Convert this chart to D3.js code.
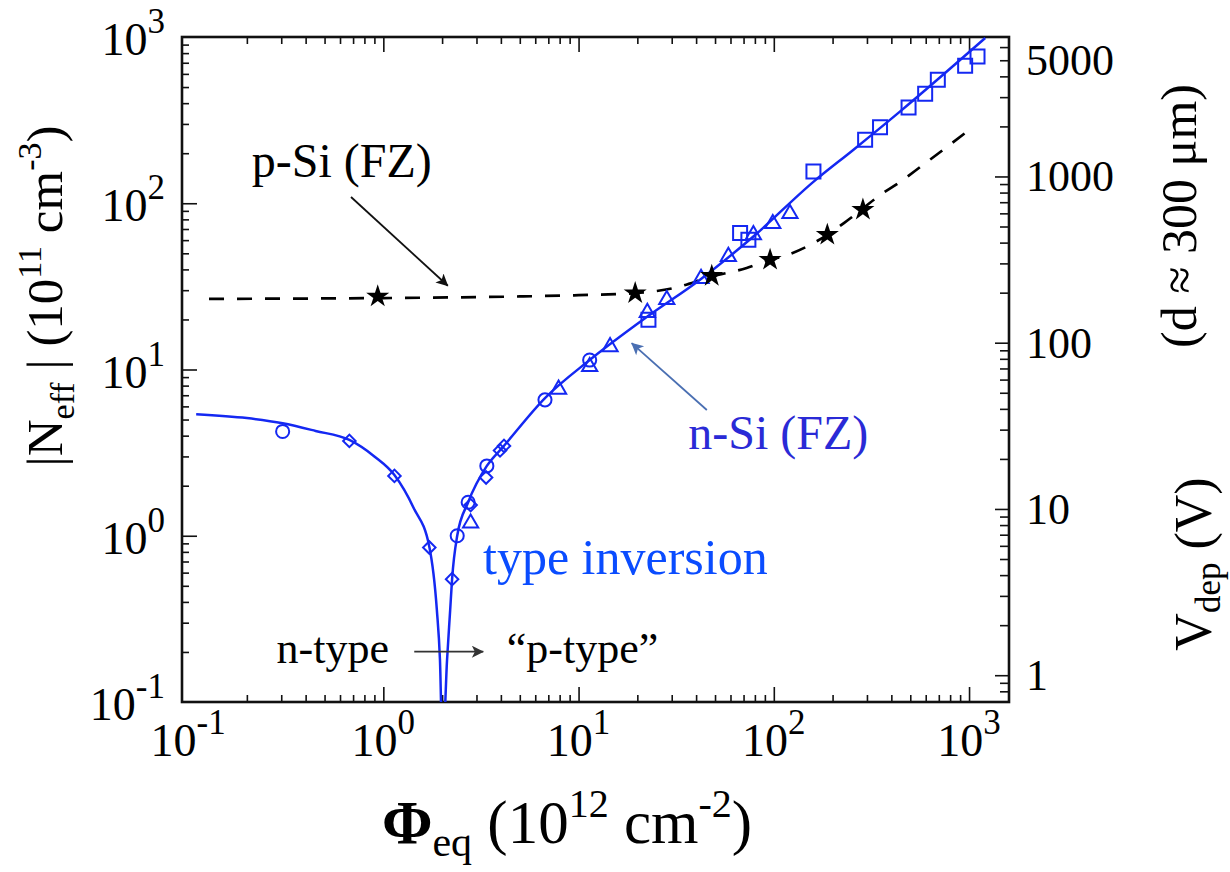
<!DOCTYPE html>
<html>
<head>
<meta charset="utf-8">
<script src="https://cdn.jsdelivr.net/npm/d3@7/dist/d3.min.js"></script>
<style>
html,body{margin:0;padding:0;background:#fff;}
svg{display:block;}
text{font-family:"Liberation Serif","Times New Roman",Times,serif;white-space:pre;}
</style>
</head>
<body>
<svg id="chart" width="1230" height="872"></svg>
<script>
// ---------------- data ----------------
// n-Si (FZ) fitted curve (solid blue)
const nFitPhi = [0.11,0.2,0.305,0.45,0.67,0.9,1.14,1.43,1.72,1.88,1.95,1.998,2.036,2.12,2.2,2.25,2.39,2.72,3.39,4.12,6.73,11.4,22.5,41.9,78.6,160,256,444,1210];
const nFitN   = [5.38,5.1,4.75,4.27,3.77,3.0,2.32,1.47,0.86,0.358,0.18,0.07,0.07,0.179,0.358,0.548,1.0,1.59,2.63,3.44,6.73,11.4,20.8,34.7,63.1,135,210,357,986];
// p-Si (FZ) curve (dashed black)
const pFitPhi = [0.128,1,5,10,19.5,30,48.1,72.6,95.7,114,188,240,362,434,573,754,973];
const pFitN   = [26.6,26.9,27.5,28.0,28.8,30.7,36.2,40.8,45.7,48.3,64.6,79.3,115,132,168,214,269];
// n-Si measurements (open blue markers)
const circlePhi = [0.305,2.39,2.72,3.39,6.73,11.4];
const circleN   = [4.24,1.0,1.59,2.63,6.57,11.4];
const diamondPhi = [0.67,1.14,1.72,2.25,2.80,3.36,3.96,4.15];
const diamondN   = [3.72,2.29,0.85,0.548,1.53,2.24,3.26,3.47];
const trianglePhi = [2.80,7.9,11.4,14.5,22.5,28.3,42.4,58.5,78.6,98.8,121];
const triangleN   = [1.19,7.6,10.4,13.7,22.0,26.3,35.2,47.8,64.6,75.3,86.5];
const squarePhi = [22.8,67.2,74.1,159.6,293.6,350,490,596,692,955,1105];
const squareN   = [19.9,66.2,60.3,155.4,241,287,377,456,553,671,764];
// p-Si measurements (filled black stars)
const starPhi = [0.936,19.5,48.1,95.7,188,286];
const starN   = [27.5,28.8,36.6,45.7,64.6,91.4];
// axes
const xExponents = [-1,0,1,2,3];
const yExponents = [-1,0,1,2,3];
const vLabels = [1,10,100,1000,5000];
const vMajor = [1,10,100,1000];
const vPerN = 6.9;   // V_dep (V) per 10^11 cm^-3 for d ~ 300 um

// ---------------- layout ----------------
const svg = d3.select("#chart");
const M = {left:182, right:1009, top:37, bottom:702};
const x = d3.scaleLog().domain([0.09307, 1602]).range([M.left, M.right]);
const y = d3.scaleLog().domain([1e-1, 1e3]).range([M.bottom, M.top]);
const yV = d3.scaleLog().domain([1e-1*vPerN, 1e3*vPerN]).range([M.bottom, M.top]);
const dec = e => Math.pow(10, e);
const BLUE = "#1428f2";

function minorVals(scale, e0, e1, lo, hi){
  const out = [];
  for (let e=e0; e<=e1; e++) for (let m=2; m<=9; m++){
    const v = m*dec(e), p = scale(v);
    if (p > lo+3 && p < hi-3) out.push(v);
  }
  return out;
}
const xMajor = [1,10,100,1000];
const xMinor = minorVals(x,-1,3,M.left,M.right);
const yMajor = [1,10,100];
const yMinor = minorVals(y,-1,2,M.top,M.bottom);
const vMinor = minorVals(yV,-1,3,M.top,M.bottom).filter(v => vMajor.indexOf(v) < 0);

function styleAxis(g){
  g.select(".domain").remove();
  g.selectAll(".tick line").attr("stroke","#111").attr("stroke-width",1.6);
  g.selectAll(".tick text").remove();
}
const axes = svg.append("g");
axes.append("g").attr("transform",`translate(0,${M.bottom})`)
  .call(d3.axisBottom(x).tickValues(xMajor).tickSizeInner(-15).tickSizeOuter(0)).call(styleAxis);
axes.append("g").attr("transform",`translate(0,${M.bottom})`)
  .call(d3.axisBottom(x).tickValues(xMinor).tickSizeInner(-7).tickSizeOuter(0)).call(styleAxis);
axes.append("g").attr("transform",`translate(0,${M.top})`)
  .call(d3.axisTop(x).tickValues(xMajor).tickSizeInner(-15).tickSizeOuter(0)).call(styleAxis);
axes.append("g").attr("transform",`translate(0,${M.top})`)
  .call(d3.axisTop(x).tickValues(xMinor).tickSizeInner(-7).tickSizeOuter(0)).call(styleAxis);
axes.append("g").attr("transform",`translate(${M.left},0)`)
  .call(d3.axisLeft(y).tickValues(yMajor).tickSizeInner(-15).tickSizeOuter(0)).call(styleAxis);
axes.append("g").attr("transform",`translate(${M.left},0)`)
  .call(d3.axisLeft(y).tickValues(yMinor).tickSizeInner(-7).tickSizeOuter(0)).call(styleAxis);
axes.append("g").attr("transform",`translate(${M.right},0)`)
  .call(d3.axisRight(yV).tickValues(vMajor).tickSizeInner(-14).tickSizeOuter(0)).call(styleAxis);
axes.append("g").attr("transform",`translate(${M.right},0)`)
  .call(d3.axisRight(yV).tickValues(vMinor).tickSizeInner(-9).tickSizeOuter(0)).call(styleAxis);

// frame
svg.append("rect").attr("x",M.left).attr("y",M.top).attr("width",M.right-M.left).attr("height",M.bottom-M.top)
  .attr("fill","none").attr("stroke","#111").attr("stroke-width",2.6);

// tick labels
const labels = svg.append("g");
xExponents.forEach(e => {
  const t = labels.append("text").attr("x", x(dec(e))).attr("y", 756).attr("text-anchor","middle").attr("font-size",46);
  t.append("tspan").text("10");
  t.append("tspan").attr("dy",-22).attr("font-size",35).text(String(e));
});
yExponents.forEach(e => {
  const t = labels.append("text").attr("x", 165).attr("y", y(dec(e))+18).attr("text-anchor","end").attr("font-size",46);
  t.append("tspan").text("10");
  t.append("tspan").attr("dy",-22).attr("font-size",35).text(String(e));
});
vLabels.forEach(v => {
  labels.append("text").attr("x",1026).attr("y",yV(v)+15).attr("font-size",44).text(String(v));
});

// axis titles
const lt = svg.append("text").attr("transform","translate(62,296) rotate(-90)").attr("text-anchor","middle").attr("font-size",51);
lt.append("tspan").text("|N");
lt.append("tspan").attr("font-size",34).attr("dy",12).text("eff");
lt.append("tspan").attr("dy",-12).text(" | (10");
lt.append("tspan").attr("font-size",34).attr("dy",-21).text("11");
lt.append("tspan").attr("dy",21).text(" cm");
lt.append("tspan").attr("font-size",34).attr("dy",-21).text("-3");
lt.append("tspan").attr("dy",21).text(")");

const bt = svg.append("text").attr("x",567).attr("y",843).attr("text-anchor","middle").attr("font-size",61);
bt.append("tspan").attr("font-weight","bold").text("Φ");
bt.append("tspan").attr("font-size",42).attr("dy",13).text("eq");
bt.append("tspan").attr("dy",-13).text(" (10");
bt.append("tspan").attr("font-size",40).attr("dy",-26).text("12");
bt.append("tspan").attr("dy",26).text(" cm");
bt.append("tspan").attr("font-size",40).attr("dy",-26).text("-2");
bt.append("tspan").attr("dy",26).text(")");

const rt = svg.append("text").attr("transform","translate(1211,564) rotate(-90)").attr("text-anchor","middle").attr("font-size",52);
rt.append("tspan").text("V");
rt.append("tspan").attr("font-size",35).attr("dy",9).text("dep");
rt.append("tspan").attr("dy",-9).text(" (V)");
svg.append("text").attr("transform","translate(1196,216) rotate(-90)").attr("text-anchor","middle").attr("font-size",50)
  .text("(d ≈ 300 μm)");

// ---------------- data layer ----------------
svg.append("clipPath").attr("id","plotclip").append("rect")
  .attr("x",M.left).attr("y",M.top).attr("width",M.right-M.left).attr("height",M.bottom-M.top);
const plot = svg.append("g").attr("clip-path","url(#plotclip)");
const line = d3.line().x(d=>x(d[0])).y(d=>y(d[1])).curve(d3.curveMonotoneX);

plot.append("path").datum(pFitPhi.map((p,i)=>[p,pFitN[i]])).attr("d",line)
  .attr("fill","none").attr("stroke","#000").attr("stroke-width",2.7).attr("stroke-dasharray","15,13");
plot.append("path").datum(nFitPhi.map((p,i)=>[p,nFitN[i]])).attr("d",line)
  .attr("fill","none").attr("stroke",BLUE).attr("stroke-width",2.5);

function markers(phis, ns, type, size, rot, fill, stroke){
  plot.append("g").selectAll("path").data(phis.map((p,i)=>[p,ns[i]])).join("path")
    .attr("transform", d => `translate(${x(d[0])},${y(d[1])}) rotate(${rot})`)
    .attr("d", d3.symbol(type, size))
    .attr("fill", fill).attr("stroke", stroke).attr("stroke-width", stroke==="none"?0:2);
}
markers(circlePhi, circleN, d3.symbolCircle, 135, 0, "none", BLUE);
markers(diamondPhi, diamondN, d3.symbolSquare, 78, 45, "none", BLUE);
markers(trianglePhi, triangleN, d3.symbolTriangle, 100, 0, "none", BLUE);
markers(squarePhi, squareN, d3.symbolSquare, 196, 0, "none", BLUE);
markers(starPhi, starN, d3.symbolStar, 165, 0, "#000", "none");

// ---------------- annotations ----------------
const defs = svg.append("defs");
function arrowHead(id, color){
  defs.append("marker").attr("id",id).attr("viewBox","0 0 10 10").attr("refX",9.5).attr("refY",5)
    .attr("markerUnits","userSpaceOnUse").attr("markerWidth",15).attr("markerHeight",12).attr("orient","auto")
    .append("path").attr("d","M0,0 L10,5 L0,10 L2.5,5 Z").attr("fill",color);
}
arrowHead("ahBlack","#111");
arrowHead("ahSteel","#4a6fb2");
arrowHead("ahGrey","#333");
function arrow(p0,n0,p1,n1,color,id,w){
  svg.append("line").attr("x1",x(p0)).attr("y1",y(n0)).attr("x2",x(p1)).attr("y2",y(n1))
    .attr("stroke",color).attr("stroke-width",w).attr("marker-end",`url(#${id})`);
}
arrow(0.683,109,2.14,31.9,"#111","ahBlack",1.8);
arrow(45.4,5.71,18.7,14.4,"#4a6fb2","ahSteel",1.8);
arrow(1.44,0.2007,3.25,0.2007,"#333","ahGrey",1.8);

function note(p,n,txt,size,color){
  svg.append("text").attr("x",x(p)).attr("y",y(n)).attr("font-size",size).style("fill",color).text(txt);
}
note(0.212,144.6,"p-Si (FZ)",48,"#000");
note(36.5,3.31,"n-Si (FZ)",48,"#2a2ad6");
note(3.24,0.585,"type inversion",50,"#0a4cff");
note(0.284,0.171,"n-type",44,"#000");
note(4.29,0.171,"\u201Cp-type\u201D",44,"#000");
</script>
</body>
</html>
